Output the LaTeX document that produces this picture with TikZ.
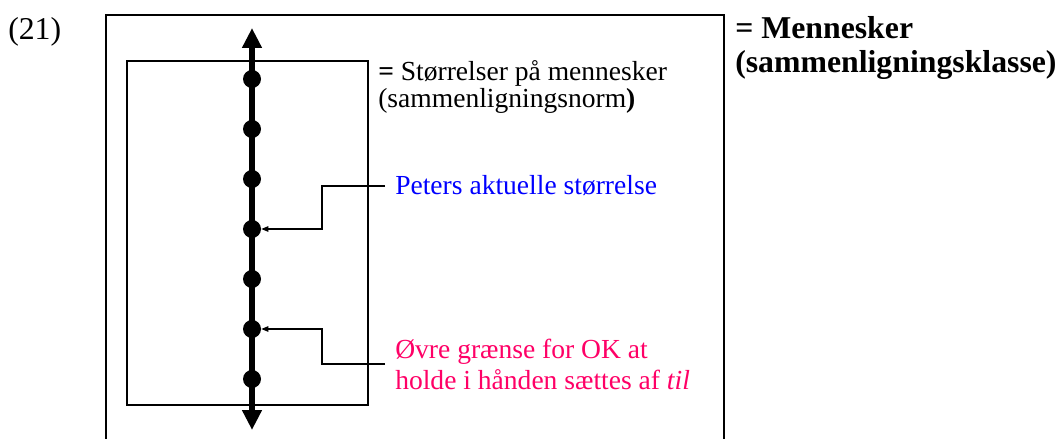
\documentclass[tikz,border=0pt]{standalone}
\usepackage{fontspec}
\setmainfont{Liberation Serif}
\usetikzlibrary{arrows.meta,calc}
\definecolor{grensepink}{RGB}{255,0,102}
\tikzset{
    dot/.style = {circle, fill, inner sep=0pt, minimum size=0.45cm},
    frame/.style = {draw, line width=1pt},
    axis/.style = {draw, line width=3.6pt, {Triangle[length=0.5cm,width=0.47cm]}-{Triangle[length=0.5cm,width=0.47cm]}},
    pointer/.style = {draw, line width=0.75pt, -{Triangle[length=1.8mm,width=1.4mm]}},
    txt/.style = {anchor=west, inner sep=0pt, align=left, font=\fontsize{19.6}{19}\selectfont},
    bigtxt/.style = {anchor=west, inner sep=0pt, align=left, font=\fontsize{22.6}{24.8}\selectfont},
    note/.style = {txt, inner xsep=0.25cm, font=\fontsize{19.6}{22}\selectfont}
}
\begin{document}
\begin{tikzpicture}[node distance=1.25cm]
        \useasboundingbox (0,0) rectangle (26.55,-10.975);
        % boxes
        \draw[frame] (2.65,-10.975) |- (18.1,-0.375) -- (18.1,-10.975);
        \draw[frame] (3.175,-1.525) rectangle (9.2,-10.125);
        \coordinate (bot) at (6.3,-10.75);
        \coordinate (top) at (6.3,-0.7);
        \draw[axis] (bot) -- (top);
        % points on the scale
        \node [dot] (d1) at (6.3,-1.975) {};
        \node [dot, below of=d1] (d2) {};
        \node [dot, below of=d2] (d3) {};
        \node [dot, below of=d3] (d4) {};
        \node [dot, below of=d4] (d5) {};
        \node [dot, below of=d5] (d6) {};
        \node [dot, below of=d6] (d7) {};
        % texts
        \node [bigtxt] (num) at (0.2,-0.8) {(21)};
        \node [bigtxt, font=\fontsize{22.6}{24.8}\selectfont\bfseries] (klasse) at (18.375,-1.2) {= Mennesker\\(sammenligningsklasse)};
        \node [txt] (norm) at (9.45,-2.17) {\textbf{=} Størrelser på mennesker\\(sammenligningsnorm\textbf{)}};
        \node [note, text=blue] (peter) at (9.625,-4.65) {Peters aktuelle størrelse};
        \node [note, text=grensepink] (grense) at (9.625,-9.1) {Øvre grænse for OK at\\holde i hånden sættes af \textit{til}};
        % pointers
        \coordinate (knee1) at (8.05,-4.65);
        \coordinate (knee2) at (8.05,-9.1);
        \draw[pointer] (peter.west) -- (knee1) |- (d4.east);
        \draw[pointer] (grense.west) -- (knee2) |- (d6.east);
\end{tikzpicture}
\end{document}
